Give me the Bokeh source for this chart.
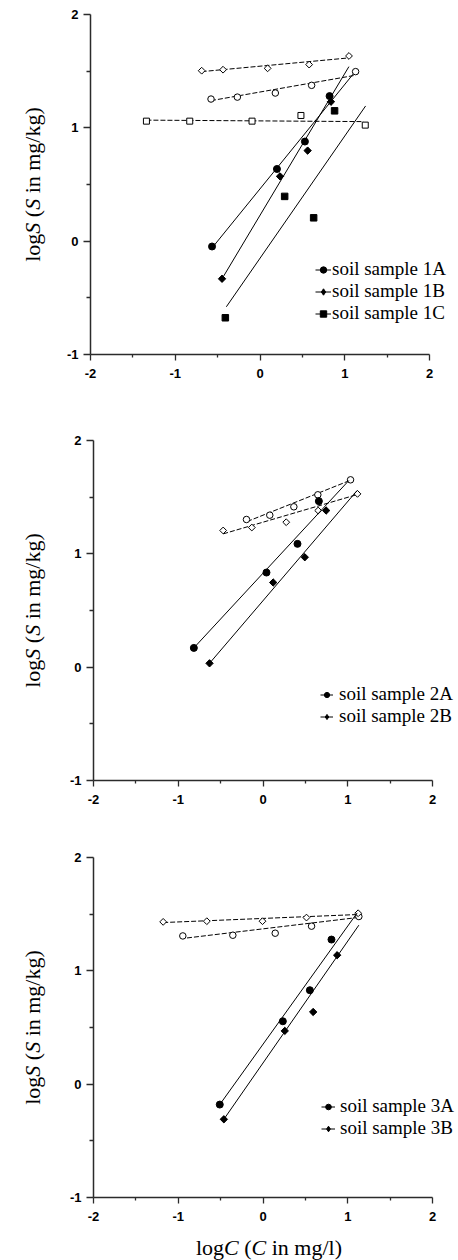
import numpy as np
from bokeh.plotting import figure
from bokeh.layouts import column
from bokeh.models import Range1d, FixedTicker, Label, Legend, LegendItem
from bokeh.embed import file_html
from bokeh.resources import INLINE

# ---------------- data ----------------
x_ticks = [-2, -1, 0, 1, 2]
x_minor = [-1.5, -0.5, 0.5, 1.5]
y_ticks = [-1, 0, 1, 2]
y_minor = [-0.5, 0.5, 1.5]
tick_text = {-2: "-2", -1: "-1", 0: "0", 1: "1", 2: "2"}

# panel 1
s1A_x = [-0.566, 0.200, 0.530, 0.821]
s1A_y = [-0.047, 0.637, 0.879, 1.280]
s1B_x = [-0.448, 0.236, 0.562, 0.837]
s1B_y = [-0.332, 0.572, 0.799, 1.230]
s1C_x = [-0.409, 0.291, 0.633, 0.880]
s1C_y = [-0.676, 0.395, 0.206, 1.150]
o1A_x = [-0.578, -0.267, 0.181, 0.609, 1.128]
o1A_y = [1.254, 1.271, 1.307, 1.375, 1.496]
o1B_x = [-0.688, -0.436, 0.090, 0.580, 1.050]
o1B_y = [1.504, 1.513, 1.525, 1.558, 1.634]
o1C_x = [-1.340, -0.829, -0.094, 0.483, 1.242]
o1C_y = [1.059, 1.059, 1.059, 1.109, 1.024]
f1A_x = [-0.566, 1.100]; f1A_y = [-0.060, 1.475]
f1B_x = [-0.448, 1.049]; f1B_y = [-0.332, 1.540]
f1C_x = [-0.397, 1.246]; f1C_y = [-0.579, 1.193]
d1A_x = [-0.578, 1.104]; d1A_y = [1.240, 1.461]
d1B_x = [-0.688, 1.049]; d1B_y = [1.496, 1.617]
d1C_x = [-1.340, 1.222]; d1C_y = [1.068, 1.055]

# panel 2
s2A_x = [-0.816, 0.041, 0.407, 0.659]
s2A_y = [0.170, 0.835, 1.088, 1.465]
s2B_x = [-0.631, 0.120, 0.493, 0.745]
s2B_y = [0.034, 0.747, 0.970, 1.382]
o2A_x = [-0.195, 0.080, 0.364, 0.647, 1.033]
o2A_y = [1.303, 1.341, 1.415, 1.521, 1.653]
o2B_x = [-0.470, -0.132, 0.274, 0.651, 1.115]
o2B_y = [1.206, 1.232, 1.279, 1.382, 1.529]
f2A_x = [-0.816, 1.013]; f2A_y = [0.170, 1.647]
f2B_x = [-0.631, 1.111]; f2B_y = [0.034, 1.559]
d2A_x = [-0.187, 1.024]; d2A_y = [1.285, 1.647]
d2B_x = [-0.470, 1.111]; d2B_y = [1.176, 1.523]

# panel 3
s3A_x = [-0.510, 0.234, 0.553, 0.808]
s3A_y = [-0.180, 0.555, 0.829, 1.276]
s3B_x = [-0.462, 0.257, 0.592, 0.875]
s3B_y = [-0.310, 0.470, 0.637, 1.138]
o3A_x = [-0.946, -0.356, 0.144, 0.573, 1.131]
o3A_y = [1.308, 1.314, 1.332, 1.394, 1.479]
o3B_x = [-1.178, -0.663, -0.006, 0.513, 1.123]
o3B_y = [1.432, 1.438, 1.438, 1.470, 1.508]
f3A_x = [-0.510, 1.111]; f3A_y = [-0.180, 1.511]
f3B_x = [-0.462, 1.131]; f3B_y = [-0.310, 1.403]
d3A_x = [-0.897, 1.111]; d3A_y = [1.290, 1.470]
d3B_x = [-1.178, 1.123]; d3B_y = [1.426, 1.497]

legend_labels_1 = ["soil sample 1A", "soil sample 1B", "soil sample 1C"]
legend_labels_2 = ["soil sample 2A", "soil sample 2B"]
legend_labels_3 = ["soil sample 3A", "soil sample 3B"]

# axis title runs: (text, style, advance in em incl. following space)
ylab_runs = [("log", "normal", 1.278), ("S", "italic", 0.75), ("(", "normal", 0.333),
             ("S", "italic", 0.75), ("in mg/kg)", "normal", 3.917)]
xlab_runs = [("log", "normal", 1.278), ("C", "italic", 0.917), ("(", "normal", 0.333),
             ("C", "italic", 0.917), ("in mg/l)", "normal", 3.195)]

SERIF = "Liberation Serif"
SANS = "Liberation Sans"
LAB_SIZE = 22
AX_COLOR = "#2b2b2b"
W = 458
DIA = np.pi / 4


def make_fig(H, L, R, T, B):
    """Frame covers the whole canvas; axis box spans pixels L..R, T..B."""
    sx = (R - L) / 4.0
    sy = (B - T) / 3.0
    xr = Range1d(-2 - L / sx, 2 + (W - R) / sx)
    yr = Range1d(-1 - (H - B) / sy, 2 + T / sy)
    p = figure(width=W, height=H, output_backend="svg", toolbar_location=None,
               x_range=xr, y_range=yr,
               min_border_left=0, min_border_right=0,
               min_border_top=0, min_border_bottom=0)
    p.outline_line_color = None
    p.grid.visible = False
    p.background_fill_color = "white"
    p.border_fill_color = "white"
    p.xaxis.ticker = FixedTicker(ticks=x_ticks, minor_ticks=x_minor)
    p.yaxis.ticker = FixedTicker(ticks=y_ticks, minor_ticks=y_minor)
    p.xaxis.fixed_location = -1
    p.yaxis.fixed_location = -2
    p.xaxis.bounds = (-2, 2)
    p.yaxis.bounds = (-1, 2)
    for ax in (p.xaxis, p.yaxis):
        ax.axis_line_color = AX_COLOR
        ax.axis_line_width = 1.5
        ax.major_tick_line_color = AX_COLOR
        ax.minor_tick_line_color = AX_COLOR
        ax.major_tick_line_width = 1.3
        ax.minor_tick_line_width = 1.3
        ax.major_tick_in = 0
        ax.minor_tick_in = 0
        ax.major_label_text_font = SANS
        ax.major_label_text_font_style = "bold"
        ax.major_label_text_font_size = "13px"
        ax.major_label_text_color = "black"
        ax.major_label_overrides = tick_text
    p.xaxis.major_tick_out = 6
    p.xaxis.minor_tick_out = 3
    p.xaxis.major_label_standoff = 8
    p.yaxis.major_tick_out = 7
    p.yaxis.minor_tick_out = 4
    p.yaxis.major_label_standoff = 5
    return p


def add_runs(p, runs, rotated, x0, y0):
    total = sum(r[2] for r in runs) * LAB_SIZE
    pos = 0.0
    for text, style, adv in runs:
        if rotated:
            lab = Label(x=x0, y=y0 - total / 2 + pos, x_units="screen", y_units="screen",
                        text=text, angle=np.pi / 2, text_align="left",
                        text_baseline="alphabetic")
        else:
            lab = Label(x=x0 - total / 2 + pos, y=y0, x_units="screen", y_units="screen",
                        text=text, text_align="left", text_baseline="alphabetic")
        lab.text_font = SERIF
        lab.text_font_size = f"{LAB_SIZE}px"
        lab.text_font_style = style
        lab.text_color = "black"
        p.add_layout(lab)
        pos += adv * LAB_SIZE


def open_series(p, xs, ys, marker, size, angle=0.0):
    p.scatter(xs, ys, marker=marker, size=size, angle=angle,
              fill_color="white", line_color="black", line_width=1)


def dashed(p, xs, ys):
    p.line(xs, ys, line_color="black", line_width=1, line_dash="5 2")


def solid_series(p, fx, fy, xs, ys, marker, size, diamond=False):
    lr = p.line(fx, fy, line_color="black", line_width=1)
    if diamond:
        # legend stand-in, hidden under the rotated squares
        proxy = p.scatter(xs, ys, marker="diamond", size=6,
                          fill_color="black", line_color="black", line_width=1)
        p.scatter(xs, ys, marker="square", size=size, angle=DIA,
                  fill_color="black", line_color="black", line_width=1)
        return [lr, proxy]
    sr = p.scatter(xs, ys, marker=marker, size=size,
                   fill_color="black", line_color="black", line_width=1)
    return [lr, sr]


def add_legend(p, labels, rends, loc, gw, standoff):
    items = [LegendItem(label=l, renderers=r) for l, r in zip(labels, rends)]
    lg = Legend(items=items, location=loc)
    lg.label_text_font = SERIF
    lg.label_text_font_size = "19px"
    lg.label_text_color = "black"
    lg.glyph_width = gw
    lg.glyph_height = 17
    lg.label_standoff = standoff
    lg.label_height = 17
    lg.spacing = 0
    lg.padding = 0
    lg.margin = 0
    lg.border_line_color = None
    lg.background_fill_alpha = 0
    p.add_layout(lg)


# ---------------- panel 1 (page y 0..420) ----------------
H1 = 420
p1 = make_fig(H1, 90, 429, 14, 354)
dashed(p1, d1B_x, d1B_y)
dashed(p1, d1A_x, d1A_y)
dashed(p1, d1C_x, d1C_y)
open_series(p1, o1B_x, o1B_y, "square", 4.8, DIA)
open_series(p1, o1A_x, o1A_y, "circle", 6.5)
open_series(p1, o1C_x, o1C_y, "square", 6)
r1A = solid_series(p1, f1A_x, f1A_y, s1A_x, s1A_y, "circle", 7)
r1B = solid_series(p1, f1B_x, f1B_y, s1B_x, s1B_y, "square", 5.2, diamond=True)
r1C = solid_series(p1, f1C_x, f1C_y, s1C_x, s1C_y, "square", 6.5)
add_legend(p1, legend_labels_1, [r1A, r1B, r1C], (315, 96), 16, 1)
add_runs(p1, ylab_runs, True, 32, H1 - 184)

# ---------------- panel 2 (page y 420..840) ----------------
H2 = 420
p2 = make_fig(H2, 93, 432, 20, 360)
dashed(p2, d2A_x, d2A_y)
dashed(p2, d2B_x, d2B_y)
open_series(p2, o2A_x, o2A_y, "circle", 6.5)
open_series(p2, o2B_x, o2B_y, "square", 4.8, DIA)
r2A = solid_series(p2, f2A_x, f2A_y, s2A_x, s2A_y, "circle", 7)
r2B = solid_series(p2, f2B_x, f2B_y, s2B_x, s2B_y, "square", 5.2, diamond=True)
add_legend(p2, legend_labels_2, [r2A, r2B], (320, 113), 13, 6)
add_runs(p2, ylab_runs, True, 32, H2 - 190)

# ---------------- panel 3 (page y 840..1260) ----------------
H3 = 420
p3 = make_fig(H3, 93, 432, 17, 357)
dashed(p3, d3A_x, d3A_y)
dashed(p3, d3B_x, d3B_y)
open_series(p3, o3A_x, o3A_y, "circle", 6.5)
open_series(p3, o3B_x, o3B_y, "square", 4.8, DIA)
r3A = solid_series(p3, f3A_x, f3A_y, s3A_x, s3A_y, "circle", 7)
r3B = solid_series(p3, f3B_x, f3B_y, s3B_x, s3B_y, "square", 5.2, diamond=True)
add_legend(p3, legend_labels_3, [r3A, r3B], (321, 121), 14, 5)
add_runs(p3, ylab_runs, True, 32, H3 - 187)
add_runs(p3, xlab_runs, False, 268.5, 13)

layout = column(p1, p2, p3, spacing=0)
open("out.html", "w").write(file_html(layout, INLINE))
